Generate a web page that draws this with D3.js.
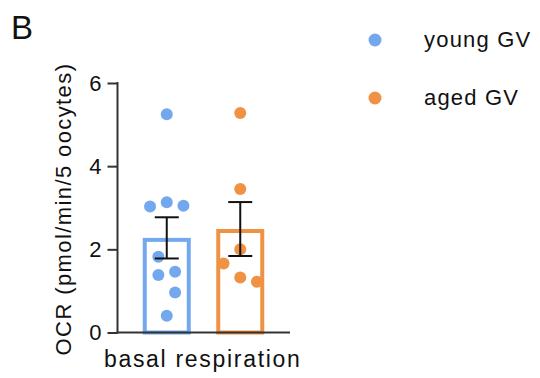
<!DOCTYPE html>
<html lang="en">
    <head>
        <meta charset="utf-8">
        <title>Basal respiration OCR</title>
        <script type="text/javascript" src="https://d3js.org/d3.v7.min.js"></script>
        <style type="text/css">
          body { margin: 0; background: #fff; }
          text { font-family: "Liberation Sans", Arial, sans-serif; fill: #111; }
        </style>
    </head>
    <body>
        <svg width="540" height="378"></svg>
        <script type="text/javascript">

            const svg = d3.select("svg");

            // data
            const groups = ["young GV", "aged GV"];
            const colors = ["#74a8ee", "#ef9244"];
            const youngValues = [5.25, 3.03, 3.13, 3.05, 1.82, 1.38, 1.46, 0.96, 0.40];
            const agedValues = [5.28, 3.45, 2.0, 1.66, 1.32, 1.22];
            // horizontal dodge of each dot, in dot slots
            const youngDodge = [0, -1, 0, 1, -0.5, -0.5, 0.5, 0.5, 0];
            const agedDodge = [0, 0, 0, -1, 0, 1];
            const yTicks = [0, 2, 4, 6];
            const category = "basal respiration";
            const yTitle = "OCR (pmol/min/5 oocytes)";

            const series = [
              {name: groups[0], color: colors[0], values: youngValues, dodge: youngDodge},
              {name: groups[1], color: colors[1], values: agedValues, dodge: agedDodge}
            ];
            series.forEach(s => {
              s.mean = d3.mean(s.values);
              s.sem = d3.deviation(s.values) / Math.sqrt(s.values.length);
            });

            const y = d3.scaleLinear().domain([0, 6]).range([332.5, 83]);
            const x = d3.scalePoint().domain(groups).range([130, 277]).padding(0.5);
            const axisX = 117.5, axisEnd = 290;
            const barW = 44, barStroke = 4, dotR = 6, slot = 16.7, capW = 24;

            // y axis
            const yAxis = svg.append("g")
                             .attr("transform", `translate(${axisX},0)`)
                             .call(d3.axisLeft(y).tickValues(yTicks).tickFormat(d3.format("d"))
                                     .tickSize(10).tickPadding(6));
            yAxis.select(".domain").remove();
            yAxis.selectAll(".tick line").attr("stroke", "#333").attr("stroke-width", 2);
            yAxis.selectAll(".tick text")
                 .style("font-size", "22px")
                 .attr("fill", "#111");
            svg.append("line")
               .attr("x1", axisX).attr("x2", axisX)
               .attr("y1", y(6) - 1).attr("y2", y(0) + 1)
               .attr("stroke", "#333").attr("stroke-width", 2);

            // bars
            svg.selectAll("rect.bar")
               .data(series)
               .enter()
               .append("rect")
               .attr("class", "bar")
               .attr("x", d => x(d.name) - barW / 2)
               .attr("width", barW)
               .attr("y", d => y(d.mean) + barStroke / 2)
               .attr("height", d => y(0) - y(d.mean) - barStroke / 2)
               .attr("fill", "#fff")
               .attr("stroke", d => d.color)
               .attr("stroke-width", barStroke);

            // x axis line on top of the bars
            svg.append("line")
               .attr("x1", axisX - 1).attr("x2", axisEnd)
               .attr("y1", y(0)).attr("y2", y(0))
               .attr("stroke", "#333").attr("stroke-width", 2);

            // dots
            series.forEach(s => {
              svg.selectAll(null)
                 .data(s.values)
                 .enter()
                 .append("circle")
                 .attr("cx", (d, i) => x(s.name) + s.dodge[i] * slot)
                 .attr("cy", d => y(d))
                 .attr("r", dotR)
                 .attr("fill", s.color);
            });

            // error bars (mean +/- SEM)
            const err = svg.selectAll("g.err")
                           .data(series)
                           .enter()
                           .append("g")
                           .attr("stroke", "#111")
                           .attr("stroke-width", 2);
            err.append("line")
               .attr("x1", d => x(d.name)).attr("x2", d => x(d.name))
               .attr("y1", d => y(d.mean + d.sem)).attr("y2", d => y(d.mean - d.sem));
            err.append("line")
               .attr("x1", d => x(d.name) - capW / 2).attr("x2", d => x(d.name) + capW / 2)
               .attr("y1", d => y(d.mean + d.sem)).attr("y2", d => y(d.mean + d.sem));
            err.append("line")
               .attr("x1", d => x(d.name) - capW / 2).attr("x2", d => x(d.name) + capW / 2)
               .attr("y1", d => y(d.mean - d.sem)).attr("y2", d => y(d.mean - d.sem));

            // axis titles
            svg.append("text")
               .attr("x", (axisX + axisEnd) / 2 - 1)
               .attr("y", 367)
               .attr("text-anchor", "middle")
               .style("font-size", "23px")
               .style("letter-spacing", "1.7px")
               .text(category);

            svg.append("text")
               .attr("transform", `translate(71,${(60 + 358) / 2}) rotate(-90)`)
               .attr("text-anchor", "middle")
               .style("font-size", "22px")
               .style("letter-spacing", "1.4px")
               .text(yTitle);

            // legend
            const legend = svg.selectAll("g.legend")
                              .data(series)
                              .enter()
                              .append("g")
                              .attr("transform", (d, i) => `translate(375,${40 + i * 58})`);
            legend.append("circle").attr("r", 6.5).attr("fill", d => d.color);
            legend.append("text")
                  .attr("x", 49).attr("y", 7)
                  .style("font-size", "22px")
                  .style("letter-spacing", "1.2px")
                  .text(d => d.name);

            // panel letter
            svg.append("text")
               .attr("x", 11).attr("y", 39)
               .style("font-size", "33px")
               .text("B");

        </script>
    </body>
</html>
